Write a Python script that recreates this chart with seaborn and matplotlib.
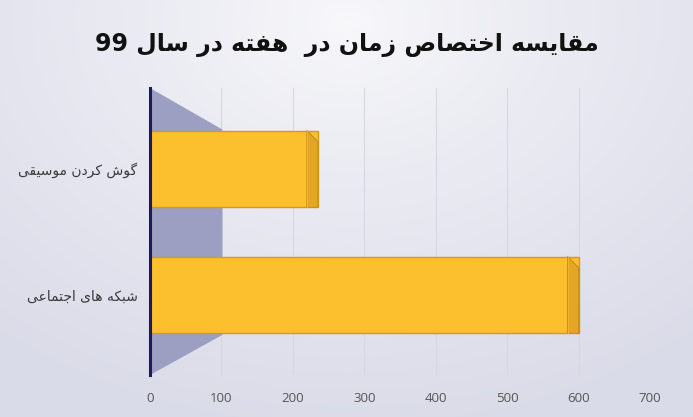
import numpy as np
import pandas as pd
import matplotlib
matplotlib.use("Agg")
import matplotlib.pyplot as plt
from matplotlib.patches import Polygon
import seaborn as sns

# ---------------- data ----------------
categories = ["گوش کردن موسیقی", "شبکه های اجتماعی"]
values = [235, 600]
x_ticks = [0, 100, 200, 300, 400, 500, 600, 700]
title_text = "مقایسه اختصاص زمان در  هفته در سال 99"

# ---------------- minimal Persian shaping (matplotlib has no text shaping) ----------------
FORMS = {
    '\u0627': ('\uFE8D', '\uFE8E', None, None),
    '\u0628': ('\uFE8F', '\uFE90', '\uFE91', '\uFE92'),
    '\u062A': ('\uFE95', '\uFE96', '\uFE97', '\uFE98'),
    '\u062C': ('\uFE9D', '\uFE9E', '\uFE9F', '\uFEA0'),
    '\u062E': ('\uFEA5', '\uFEA6', '\uFEA7', '\uFEA8'),
    '\u062F': ('\uFEA9', '\uFEAA', None, None),
    '\u0631': ('\uFEAD', '\uFEAE', None, None),
    '\u0632': ('\uFEAF', '\uFEB0', None, None),
    '\u0633': ('\uFEB1', '\uFEB2', '\uFEB3', '\uFEB4'),
    '\u0634': ('\uFEB5', '\uFEB6', '\uFEB7', '\uFEB8'),
    '\u0635': ('\uFEB9', '\uFEBA', '\uFEBB', '\uFEBC'),
    '\u0639': ('\uFEC9', '\uFECA', '\uFECB', '\uFECC'),
    '\u0641': ('\uFED1', '\uFED2', '\uFED3', '\uFED4'),
    '\u0642': ('\uFED5', '\uFED6', '\uFED7', '\uFED8'),
    '\u0644': ('\uFEDD', '\uFEDE', '\uFEDF', '\uFEE0'),
    '\u0645': ('\uFEE1', '\uFEE2', '\uFEE3', '\uFEE4'),
    '\u0646': ('\uFEE5', '\uFEE6', '\uFEE7', '\uFEE8'),
    '\u0647': ('\uFEE9', '\uFEEA', '\uFEEB', '\uFEEC'),
    '\u0648': ('\uFEED', '\uFEEE', None, None),
    '\u06CC': ('\uFBFC', '\uFBFD', '\uFBFE', '\uFBFF'),
    '\u06A9': ('\uFB8E', '\uFB8F', '\uFB90', '\uFB91'),
    '\u06AF': ('\uFB92', '\uFB93', '\uFB94', '\uFB95'),
}


def shape(text):
    out = []
    n = len(text)
    for i, ch in enumerate(text):
        if ch not in FORMS:
            out.append(ch)
            continue
        prev = text[i - 1] if i > 0 else ''
        nxt = text[i + 1] if i < n - 1 else ''
        join_prev = prev in FORMS and FORMS[prev][2] is not None
        join_next = nxt in FORMS and FORMS[ch][2] is not None
        iso, fin, ini, med = FORMS[ch]
        if join_prev and join_next:
            out.append(med)
        elif join_prev:
            out.append(fin)
        elif join_next:
            out.append(ini)
        else:
            out.append(iso)
    s = ''.join(out)
    tokens = []
    buf = ''
    for ch in s:
        if ch.isdigit():
            buf += ch
        else:
            if buf:
                tokens.append(buf)
                buf = ''
            tokens.append(ch)
    if buf:
        tokens.append(buf)
    return ''.join(reversed(tokens))


# ---------------- figure ----------------
sns.set_theme(style="white")
plt.rcParams['font.family'] = ['DejaVu Sans']

fig = plt.figure(figsize=(6.93, 4.17), dpi=100)

# background gradient
bg = fig.add_axes([0, 0, 1, 1], zorder=-10)
yy, xx = np.mgrid[0:1:200j, 0:1:300j]
d = np.sqrt(((xx - 0.5) / 0.8) ** 2 + ((yy - 0.05) / 1.0) ** 2)
d = np.clip(d, 0, 1) ** 0.8
c0 = np.array([0.975, 0.975, 0.985])
c1 = np.array([0.855, 0.86, 0.91])
img = c0[None, None, :] * (1 - d[..., None]) + c1[None, None, :] * d[..., None]
bg.imshow(img, aspect='auto', extent=[0, 1, 0, 1], origin='upper')
bg.set_axis_off()

ax = fig.add_axes([150 / 693, 1 - 375 / 417, 500 / 693, 287 / 417])
ax.patch.set_alpha(0)

df = pd.DataFrame({"category": [shape(c) for c in categories], "value": values})

# side wall (3D look)
wall = Polygon([(0, 0), (0.145, 0.14), (0.145, 0.855), (0, 1)], closed=True,
               transform=ax.transAxes, facecolor='#9c9ec2', edgecolor='none', zorder=0.5)
ax.add_patch(wall)

for xv in x_ticks[1:]:
    ax.axvline(xv, color='#d6d7e0', lw=0.8, zorder=0.3)

sns.barplot(data=df, x="value", y="category", orient="h", ax=ax,
            color='#FCBF2E', width=0.61, edgecolor='#D39A1E', linewidth=1.0,
            saturation=1, zorder=2)

ax.set_xlim(0, 700)
ax.set_ylim(1.635, -0.643)

# darker right "side face" for a 3D look, taken from each drawn bar
dx = 11 * 700 / 500  # ~11 px in data units
dy = 11 * 2.278 / 287
for p in list(ax.patches):
    if p is wall:
        continue
    x1 = p.get_x() + p.get_width()
    y0 = p.get_y()
    y1 = y0 + p.get_height()
    side = Polygon([(x1 - dx, y0), (x1, y0 + dy), (x1, y1), (x1 - dx, y1)], closed=True,
                   facecolor='#E3A626', edgecolor='#C98F1A', lw=0.8, zorder=2.5)
    ax.add_patch(side)
    ax.plot([x1 - dx, x1 - dx], [y0, y1], color='#EFB52A', lw=0.8, zorder=2.6)

ax.set_xticks(x_ticks)
ax.set_xticklabels([str(t) for t in x_ticks], fontsize=9.5, color='#555555',
                   family=['Open Sans', 'DejaVu Sans'])
ax.tick_params(axis='x', length=0, pad=12)
ax.tick_params(axis='y', length=0, pad=9)
for lab in ax.get_yticklabels():
    lab.set_fontsize(10)
    lab.set_color('#3a3a3a')
ax.set_xlabel("")
ax.set_ylabel("")
for sp in ['top', 'right', 'bottom']:
    ax.spines[sp].set_visible(False)
ax.spines['left'].set_color('#1c1c55')
ax.spines['left'].set_linewidth(2.2)
ax.spines['left'].set_zorder(3)

fig.text(0.5, 1 - 45 / 417, shape(title_text), ha='center', va='center',
         fontsize=17, fontweight='bold', color='#111111')

fig.savefig("out.png", dpi=100)
